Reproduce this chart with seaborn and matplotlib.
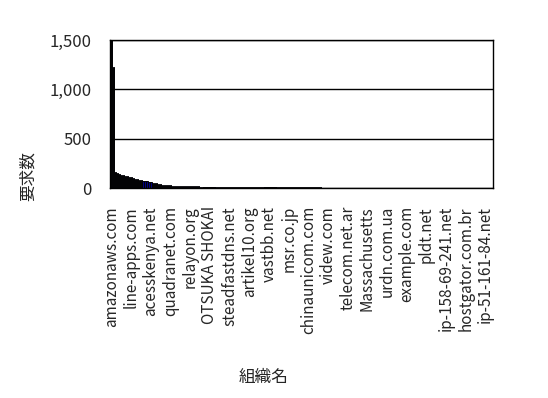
import numpy as np
import pandas as pd
import matplotlib
matplotlib.use("Agg")
import matplotlib.pyplot as plt
import seaborn as sb

sb.set_style("white")
plt.rcParams["font.family"] = ["Noto Sans CJK JP", "DejaVu Sans"]

# request count per organisation, sorted descending
head_counts = [1500, 1230, 165, 150, 140, 135, 130, 125, 120, 115,
               110, 100, 95, 90, 85, 80, 75, 70, 66, 62,
               58, 54, 50, 46, 42, 38, 35, 32, 30, 28,
               26, 25, 24, 23, 22, 22, 21, 21, 20, 20,
               20, 19, 19, 18, 18]
mid_counts = [13, 13, 12, 12, 12, 12, 11, 11, 11, 11,
              11, 10, 10, 10, 10, 10, 10, 10, 9, 9,
              9, 9, 9, 9, 9, 9, 8, 8, 8, 8,
              8, 8, 8, 8, 8, 7, 7, 7, 7, 7,
              7, 7, 7, 7, 7, 7, 6, 6, 6, 6]
tail_counts = [6, 6, 6, 6, 6, 6, 6, 6, 6, 6,
               6, 6, 5, 5, 5, 5, 5, 5, 5, 5,
               5, 5, 5, 5, 5, 5, 5, 5, 5, 5,
               4, 4, 4, 4, 4, 4, 4, 4, 4, 4,
               4, 4, 4, 4, 4, 4, 4, 4, 4, 4,
               3, 3, 3, 3, 3, 3, 3, 3, 3, 3,
               3, 3, 3, 3, 3, 3, 3, 3, 3, 3,
               3, 3, 3, 3, 3, 2, 2, 2, 2, 2,
               2, 2, 2, 2, 2, 2, 2, 2, 2, 2,
               2, 2, 2, 2, 2, 2, 2, 2, 2]
counts = head_counts + mid_counts + tail_counts

# only every 10th organisation name is shown on the axis
shown_names = ["amazonaws.com", "line-apps.com", "acesskenya.net", "quadranet.com",
               "relayon.org", "OTSUKA SHOKAI", "steadfastdns.net", "artikel10.org",
               "vastbb.net", "msr.co.jp", "chinaunicom.com", "videw.com",
               "telecom.net.ar", "Massachusetts", "urdn.com.ua", "example.com",
               "pldt.net", "ip-158-69-241.net", "hostgator.com.br", "ip-51-161-84.net"]
label_step = 10

df = pd.DataFrame({"rank": np.arange(len(counts)), "requests": counts})

fig = plt.figure(figsize=(5.48, 3.98), dpi=100)
ax = fig.add_axes([110 / 548, 1 - 188 / 398, 383 / 548, 148 / 398])

sb.barplot(data=df, x="rank", y="requests", color="#000080",
           edgecolor="black", linewidth=0.7, width=0.6, saturation=1, ax=ax)

ax.set_ylim(0, 1500)
ax.set_xlim(-0.8, len(counts) - 0.2)
ax.set_yticks([0, 500, 1000, 1500])
ax.set_yticklabels(["0", "500", "1,000", "1,500"], fontsize=12)
ax.yaxis.grid(True, color="black", linewidth=1)
ax.set_axisbelow(True)

ax.set_xticks(np.arange(len(shown_names)) * label_step)
ax.set_xticklabels(shown_names, rotation=90, fontsize=11)
ax.tick_params(axis="x", length=0, pad=13)
ax.tick_params(axis="y", length=0, pad=13)

for sp in ax.spines.values():
    sp.set_color("black")
    sp.set_linewidth(1)

ax.set_xlabel("組織名", fontsize=12)
ax.set_ylabel("要求数", fontsize=12)
ax.xaxis.set_label_coords(0.4, -1.22)
ax.yaxis.set_label_coords(-0.19, 0.08)

fig.savefig("out.png", dpi=100)
